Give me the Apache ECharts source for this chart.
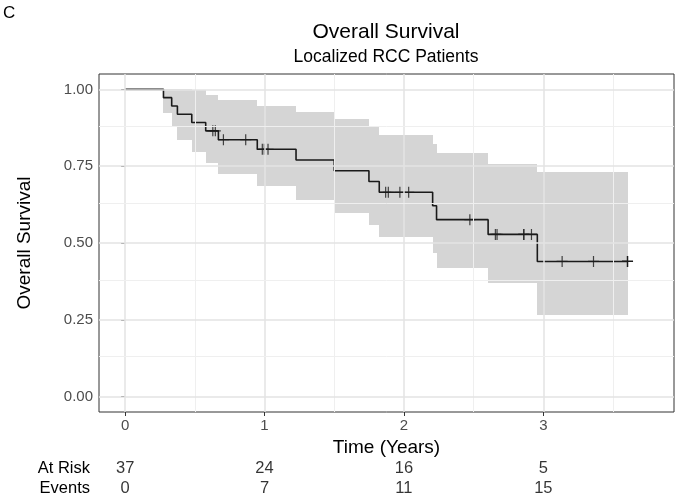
<!DOCTYPE html>
<html>
<head>
<meta charset="utf-8">
<script src="https://cdn.jsdelivr.net/npm/echarts@6/dist/echarts.min.js"></script>
<style>
  html, body { margin: 0; padding: 0; background: #fff; }
  #chart { width: 679px; height: 498px; }
</style>
</head>
<body>
<div id="chart"></div>
<script>
// Kaplan-Meier step curve (time in years, survival probability)
const kmTime = [0, 0.275, 0.334, 0.375, 0.478, 0.578, 0.669, 0.948, 1.226, 1.500, 1.749, 1.823, 2.206, 2.234, 2.604, 2.957, 3.604];
const kmSurv = [1, 0.973, 0.946, 0.919, 0.892, 0.865, 0.836, 0.805, 0.770, 0.735, 0.700, 0.665, 0.621, 0.576, 0.528, 0.440, 0.440];
// confidence band
const ciLower = [1, 0.922, 0.876, 0.835, 0.797, 0.761, 0.724, 0.685, 0.641, 0.599, 0.558, 0.519, 0.468, 0.420, 0.369, 0.265, 0.265];
const ciUpper = [1, 1, 1, 1, 0.998, 0.982, 0.965, 0.946, 0.925, 0.902, 0.878, 0.852, 0.823, 0.792, 0.758, 0.732, 0.732];
// censored observations
const censorTime = [0.629, 0.647, 0.705, 0.865, 0.984, 0.998, 1.025, 1.869, 1.888, 1.971, 2.034, 2.473, 2.656, 2.668, 2.860, 2.860, 2.915, 3.135, 3.360, 3.604, 3.604, 3.604];
const censorSurv = [0.865, 0.865, 0.836, 0.836, 0.805, 0.805, 0.805, 0.665, 0.665, 0.665, 0.665, 0.576, 0.528, 0.528, 0.528, 0.528, 0.528, 0.440, 0.440, 0.440, 0.440, 0.440];
// risk table
const riskTimes = [0, 1, 2, 3];
const atRisk = [37, 24, 16, 5];
const events = [0, 7, 11, 15];
const riskRows = ['At Risk', 'Events'];
// axis ticks
const xTicks = [0, 1, 2, 3];
const xMinor = [0.5, 1.5, 2.5, 3.5];
const yTicks = [0, 0.25, 0.5, 0.75, 1];
const yMinor = [0.125, 0.375, 0.625, 0.875];

const FONT = "'Liberation Sans', Arial, sans-serif";
const X_MIN = -0.1875;
const X_MAX = 3.9375;

const chart = echarts.init(document.getElementById('chart'));

const majorStyle = { color: '#e3e3e3', width: 1.5, type: 'solid' };
const minorStyle = { color: '#efefef', width: 1, type: 'solid' };
const gridLines = [];
xTicks.forEach((v) => gridLines.push({ xAxis: v, lineStyle: majorStyle }));
xMinor.forEach((v) => gridLines.push({ xAxis: v, lineStyle: minorStyle }));
yTicks.forEach((v) => gridLines.push({ yAxis: v, lineStyle: majorStyle }));
yMinor.forEach((v) => gridLines.push({ yAxis: v, lineStyle: minorStyle }));

// one band piece per interval between consecutive times
const bandData = [];
for (let i = 0; i < kmTime.length - 1; i += 1) {
  bandData.push([kmTime[i], kmTime[i + 1], ciLower[i], ciUpper[i]]);
}

const riskData = [];
riskTimes.forEach((t, i) => {
  riskData.push([t, riskRows[0], atRisk[i]]);
  riskData.push([t, riskRows[1], events[i]]);
});

const option = {
  animation: false,
  textStyle: { fontFamily: FONT },
  title: [
    {
      text: 'C', left: 3, top: 5, padding: 0,
      textStyle: { fontSize: 17, fontWeight: 'normal', color: '#000', fontFamily: FONT },
    },
    {
      text: 'Overall Survival', left: 386, top: 22, padding: 0, textAlign: 'center',
      textStyle: { fontSize: 21, fontWeight: 'normal', color: '#000', fontFamily: FONT },
    },
    {
      text: 'Localized RCC Patients', left: 386, top: 48, padding: 0, textAlign: 'center',
      textStyle: { fontSize: 17.5, fontWeight: 'normal', color: '#000', fontFamily: FONT },
    },
  ],
  grid: [
    {
      left: 99, right: 5, top: 74, bottom: 86,
      show: true, borderColor: '#333', borderWidth: 1, backgroundColor: '#fff',
    },
    {
      left: 99, right: 5, top: 458, height: 42,
    },
  ],
  xAxis: [
    {
      type: 'value', gridIndex: 0, min: X_MIN, max: X_MAX,
      name: 'Time (Years)', nameLocation: 'middle', nameGap: 24,
      nameTextStyle: { fontSize: 19, color: '#000', fontFamily: FONT },
      axisLine: { show: false, onZero: false },
      axisTick: { show: true, customValues: xTicks, length: 4, lineStyle: { color: '#333' } },
      axisLabel: {
        customValues: xTicks, fontSize: 15, color: '#4d4d4d', margin: 6, fontFamily: FONT,
        formatter: (v) => String(v),
      },
      splitLine: { show: false },
    },
    {
      type: 'value', gridIndex: 1, min: X_MIN, max: X_MAX, show: false,
    },
  ],
  yAxis: [
    {
      type: 'value', gridIndex: 0, min: -0.05, max: 1.05,
      name: 'Overall Survival', nameLocation: 'middle', nameGap: 65,
      nameTextStyle: { fontSize: 19, color: '#000', fontFamily: FONT },
      axisLine: { show: false },
      axisTick: { show: true, customValues: yTicks, length: 4, lineStyle: { color: '#333' } },
      axisLabel: {
        customValues: yTicks, fontSize: 15, color: '#4d4d4d', margin: 6, fontFamily: FONT,
        formatter: (v) => v.toFixed(2),
      },
      splitLine: { show: false },
    },
    {
      type: 'category', gridIndex: 1, data: riskRows, inverse: true,
      axisLine: { show: false },
      axisTick: { show: false },
      axisLabel: { interval: 0, fontSize: 16.5, color: '#000', margin: 9, fontFamily: FONT },
      splitLine: { show: false },
    },
  ],
  series: [
    { // grid lines
      type: 'line', xAxisIndex: 0, yAxisIndex: 0, z: 1,
      symbol: 'none', lineStyle: { opacity: 0 },
      data: [[0, 1]],
      markLine: {
        silent: true, symbol: ['none', 'none'], label: { show: false },
        animation: false, data: gridLines,
      },
    },
    { // confidence band
      type: 'custom', xAxisIndex: 0, yAxisIndex: 0, z: 2,
      renderItem(params, api) {
        const p0 = api.coord([api.value(0), api.value(3)]);
        const p1 = api.coord([api.value(1), api.value(2)]);
        const x0 = Math.round(p0[0]);
        const x1 = Math.round(p1[0]);
        const y0 = Math.round(p0[1]);
        const y1 = Math.round(p1[1]);
        return {
          type: 'rect',
          shape: { x: x0, y: y0, width: x1 - x0, height: y1 - y0 },
          style: { fill: 'rgba(0,0,0,0.165)' },
        };
      },
      encode: { x: [0, 1], y: [2, 3] },
      data: bandData,
    },
    { // survival curve
      type: 'line', xAxisIndex: 0, yAxisIndex: 0,
      step: 'end', symbol: 'none', z: 3,
      lineStyle: { color: '#1a1a1a', width: 1.6 },
      data: kmTime.map((t, i) => [t, kmSurv[i]]),
    },
    { // censor marks
      type: 'scatter', xAxisIndex: 0, yAxisIndex: 0, z: 4,
      symbol: 'path://M5,0 L5,10 M0,5 L10,5', symbolSize: 11,
      itemStyle: { color: 'transparent', borderColor: '#1a1a1a', borderWidth: 1.2 },
      data: censorTime.map((t, i) => [t, censorSurv[i]]),
    },
    { // risk table
      type: 'scatter', xAxisIndex: 1, yAxisIndex: 1,
      symbolSize: 1, itemStyle: { color: 'transparent' },
      label: {
        show: true, position: 'inside', fontSize: 16.5, color: '#000', fontFamily: FONT,
        formatter: (p) => String(p.value[2]),
      },
      data: riskData,
    },
  ],
};

chart.setOption(option);
</script>
</body>
</html>
